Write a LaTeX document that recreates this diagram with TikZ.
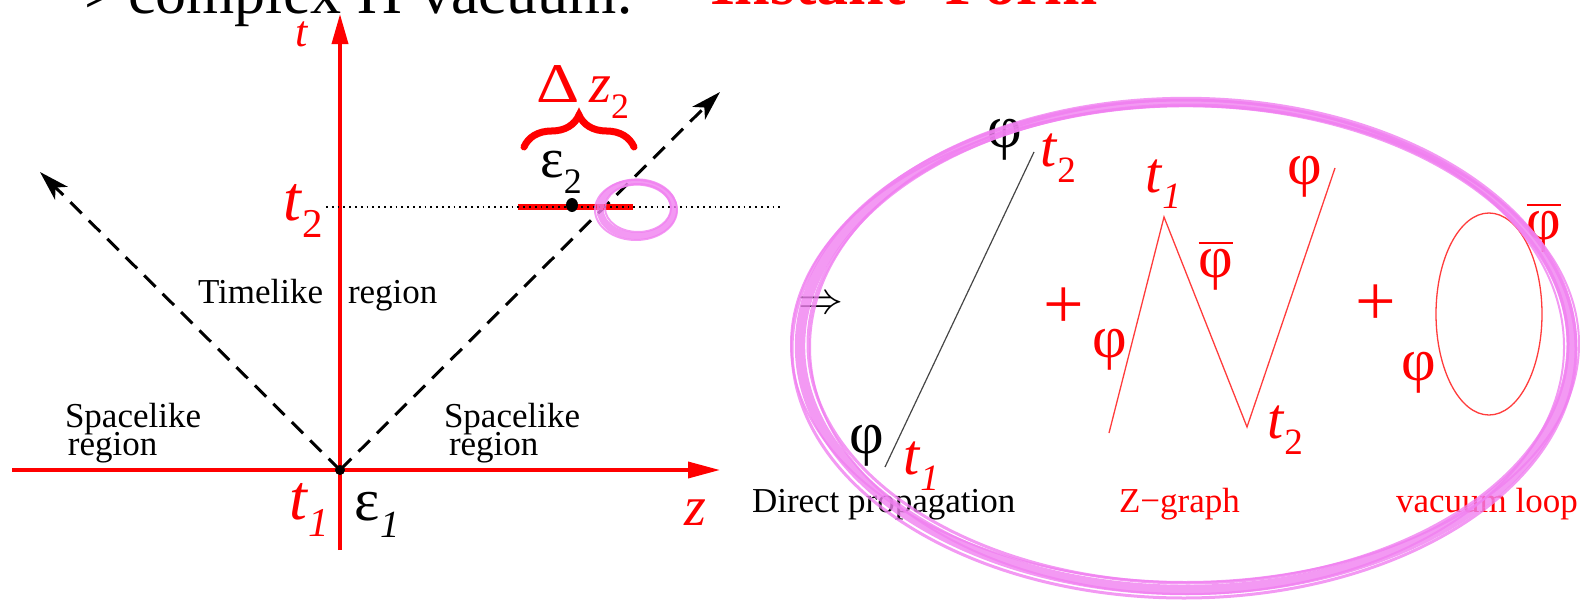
\documentclass[tikz,border=0pt]{standalone}
\usepackage{fontspec}
\setmainfont{Liberation Serif}
\usetikzlibrary{arrows.meta,decorations.pathreplacing}
\definecolor{pinkring}{RGB}{240,128,240}
\definecolor{darkline}{RGB}{70,70,70}
\definecolor{lightred}{RGB}{255,60,60}
\newcommand\fsz[1]{\fontsize{#1pt}{#1pt}\selectfont}
\newcommand\sbs[1]{\raisebox{-0.28em}{\scalebox{0.64}{#1}}}
\newcommand\phibar{\vbox{\hrule height 0.8pt\kern 2.5pt\hbox{φ}}}
\newcommand\tl[1]{\textit{t}\sbs{#1}}
\begin{document}
\begin{tikzpicture}[x=0.5pt,y=-0.5pt,
  lbl/.style={inner sep=0pt,outer sep=0pt},
  axis/.style={red,line width=1.8pt},
  cone/.style={line width=1.5pt,dash pattern=on 8pt off 5pt,-{Stealth[length=15pt,width=9pt,inset=4pt]}},
  dotline/.style={line width=0.9pt,dash pattern=on 0.9pt off 2pt},
  word/.style={lbl,anchor=base west,font=\fsz{17.5}},
  rword/.style={word,text=red},
  big/.style={lbl,font=\fsz{#1}},
  rbig/.style={big=#1,text=red},
  zline/.style={lightred,line width=0.65pt},
  ring/.style={pinkring,opacity=0.8}]
\useasboundingbox (0,0) rectangle (1580,600);
\clip (0,0) rectangle (1580,600);

% clipped header
\node[word,font=\fsz{31}] (h1) at (84,13) {>};
\node[word,font=\fsz{31}] (h2) at (128,13) {complex H};
\node[word,font=\fsz{31}] (h3) at (420,13) {vacuum:};
\node[word,font=\fsz{32}\bfseries,text=red] (h4) at (710,4) {Instant-};
\node[word,font=\fsz{32}\bfseries,text=red] (h5) at (945,4) {Form};

% axes
\coordinate (O) at (340,470);
\coordinate (tTop) at (340,14);
\coordinate (tBot) at (340,550);
\coordinate (zL) at (12,470);
\coordinate (zR) at (720,470);
\draw[axis,-{Triangle[length=15pt,width=8pt]}] (tBot) -- (tTop);
\draw[axis,-{Triangle[length=16pt,width=8pt]}] (zL) -- (zR);

% light cone
\coordinate (lcR) at (720,92);
\coordinate (lcL) at (40,172);
\draw[cone] (O) -- (lcR);
\draw[cone] (O) -- (lcL);
\fill (O) circle (5);

% t2 line
\coordinate (rA) at (518,207);
\coordinate (rB) at (633,207);
\coordinate (dA) at (326,207);
\coordinate (dB) at (780,207);
\draw[red,line width=3pt] (rA) -- (rB);
\draw[dotline] (dA) -- (dB);
\fill (572,205) ellipse [x radius=6,y radius=7];

% brace
\coordinate (bL) at (524,147);
\coordinate (bR) at (634,147);
\draw[red,line width=3.5pt,line cap=round,decorate,decoration={brace,amplitude=16pt,aspect=0.5}] (bL) -- (bR);

% left labels
\node[rbig=22,font=\fsz{22}\itshape] (tlab) at (302,34) {t};
\node[rbig=32] (t2lab) at (303,211) {\tl{2}};
\node[rbig=32] (t1lab) at (309,510) {\tl{\textit{1}}};
\node[big=30] (e1lab) at (377,515) {ε\sbs{\textit{1}}};
\node[rbig=28,font=\fsz{28}\itshape] (zlab) at (695,513) {z};
\node[big=28] (e2lab) at (561,172) {ε\sbs{2}};
\node[rbig=28] (dzlab) at (583,92) {\scalebox{1.2}[1]{Δ}\,\textit{z}\sbs{2}};

\node[word] (tl1) at (198,303) {Timelike};
\node[word] (tl2) at (348,303) {region};
\node[word] (sl1) at (65,427) {Spacelike};
\node[word] (sl2) at (68,455) {region};
\node[word] (sr1) at (444,427) {Spacelike};
\node[word] (sr2) at (449,455) {region};

% right part
\node[lbl] (impl) at (821,305) {\scalebox{2.25}{$\Rightarrow$}};

% direct propagation
\coordinate (dp1) at (885,467);
\coordinate (dp2) at (1034,152);
\draw[darkline,line width=0.6pt] (dp1) -- (dp2);
\node[big=30] (dpphi2) at (1005,140) {φ};
\node[rbig=29] (dpt2) at (1058,158) {\tl{2}};
\node[big=30] (dpphi1) at (867,446) {φ};
\node[rbig=29] (dpt1) at (921,466) {\tl{\textit{1}}};
\node[word] (dplab) at (752,512) {Direct propagation};

\node[rbig=36] (plus1) at (1064,308) {+};
\node[rbig=36] (plus2) at (1376,305) {+};

% Z graph
\coordinate (zA) at (1109,433);
\coordinate (zB) at (1164,217);
\coordinate (zC) at (1247,427);
\coordinate (zD) at (1335,168);
\draw[zline] (zA) -- (zB) -- (zC) -- (zD);
\node[rbig=30] (zphi1) at (1110,350) {φ};
\node[rbig=29] (zt1) at (1163,184) {\tl{\textit{1}}};
\node[rbig=30] (zphib) at (1216,266) {\phibar};
\node[rbig=29] (zt2) at (1285,430) {\tl{2}};
\node[rbig=30] (zphi2) at (1305,177) {φ};
\node[rword] (zlab2) at (1119,512) {Z−graph};

% vacuum loop
\draw[zline] (1489,314) ellipse [x radius=53,y radius=101];
\node[rbig=30] (vphi) at (1419,373) {φ};
\node[rbig=30] (vphib) at (1544,228) {\phibar};
\node[rword] (vlab) at (1396,512) {vacuum loop};

% sketchy pink rings
\foreach \dx/\dy/\drx/\dry/\w in {0/0/0/0/5.2, 2/-2/-6/-5/1.5, -2/3/6/5/1.5, 1/1/-9/3/1.0, -1/-2/8/-6/1.0}{
  \draw[ring,line width=\w pt] (1186+\dx,346+\dy) ellipse [x radius=386+\drx,y radius=244+\dry];
}
\foreach \dx/\dy/\drx/\dry/\w in {0/0/0/0/3.6, 1/-1/-4/-3/1.0, -1/1/4/3/1.0}{
  \draw[ring,line width=\w pt] (637+\dx,209+\dy) ellipse [x radius=37+\drx,y radius=27+\dry];
}
\end{tikzpicture}
\end{document}
